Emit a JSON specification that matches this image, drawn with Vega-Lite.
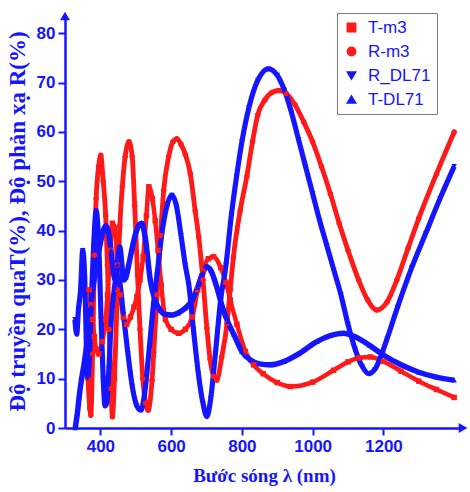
{
  "$schema": "https://vega.github.io/schema/vega-lite/v6.json",
  "width": 398,
  "height": 412,
  "autosize": {"type": "none"},
  "padding": {"left": 65, "top": 16, "right": 7, "bottom": 64},
  "background": "white",
  "config": {
    "view": {"stroke": null},
    "axis": {
      "grid": false,
      "domainColor": "#1515ff",
      "domainWidth": 2.5,
      "tickColor": "#1515ff",
      "tickWidth": 2,
      "labelColor": "#1515ff",
      "labelFont": "Liberation Sans",
      "labelFontWeight": "bold",
      "labelFontSize": 17,
      "titleColor": "#1515ff",
      "titleFont": "Liberation Serif",
      "titleFontWeight": "bold",
      "titleFontSize": 19
    },
    "legend": {
      "orient": "none",
      "legendX": 272,
      "legendY": -3,
      "padding": 6,
      "strokeColor": "#7a7a7a",
      "fillColor": "white",
      "labelFont": "Liberation Sans",
      "labelFontSize": 17,
      "labelColor": "#1515ff",
      "labelOffset": 8,
      "symbolSize": 70,
      "symbolOpacity": 1,
      "rowPadding": 6
    }
  },
  "data": {
    "values": [
      {"s":"T-m3","x":368,"y":28},{"s":"T-m3","x":373,"y":25},{"s":"T-m3","x":378,"y":22},{"s":"T-m3","x":383,"y":18.5},{"s":"T-m3","x":388,"y":16},{"s":"T-m3","x":396,"y":15},{"s":"T-m3","x":405,"y":17.5},{"s":"T-m3","x":415,"y":22},{"s":"T-m3","x":420,"y":27},{"s":"T-m3","x":428,"y":36},{"s":"T-m3","x":434,"y":41.5},{"s":"T-m3","x":441,"y":40.5},{"s":"T-m3","x":448,"y":33},{"s":"T-m3","x":456,"y":27},{"s":"T-m3","x":465,"y":22.5},{"s":"T-m3","x":474,"y":21},{"s":"T-m3","x":485,"y":22.5},{"s":"T-m3","x":495,"y":24.5},{"s":"T-m3","x":503,"y":26.6},{"s":"T-m3","x":512,"y":30},{"s":"T-m3","x":521,"y":34.7},{"s":"T-m3","x":530,"y":43},{"s":"T-m3","x":537,"y":48.9},{"s":"T-m3","x":547,"y":46.5},{"s":"T-m3","x":555,"y":42},{"s":"T-m3","x":563,"y":36},{"s":"T-m3","x":572,"y":29},{"s":"T-m3","x":584,"y":22},{"s":"T-m3","x":600,"y":20},{"s":"T-m3","x":621,"y":19.2},{"s":"T-m3","x":640,"y":20},{"s":"T-m3","x":660,"y":22.5},{"s":"T-m3","x":675,"y":28},{"s":"T-m3","x":690,"y":32},{"s":"T-m3","x":705,"y":34.3},{"s":"T-m3","x":720,"y":34.7},{"s":"T-m3","x":740,"y":32.5},{"s":"T-m3","x":755,"y":29.5},{"s":"T-m3","x":767,"y":26},{"s":"T-m3","x":786,"y":21},{"s":"T-m3","x":810,"y":15.5},{"s":"T-m3","x":833,"y":12.8},{"s":"T-m3","x":860,"y":11},{"s":"T-m3","x":900,"y":9.2},{"s":"T-m3","x":937,"y":8.4},{"s":"T-m3","x":1000,"y":9.3},{"s":"T-m3","x":1059,"y":11.7},{"s":"T-m3","x":1100,"y":13.4},{"s":"T-m3","x":1130,"y":14.2},{"s":"T-m3","x":1163,"y":14.4},{"s":"T-m3","x":1200,"y":13.5},{"s":"T-m3","x":1250,"y":11.5},{"s":"T-m3","x":1300,"y":9.5},{"s":"T-m3","x":1350,"y":7.8},{"s":"T-m3","x":1400,"y":6.2},
      {"s":"R-m3","x":365,"y":10},{"s":"R-m3","x":370,"y":4},{"s":"R-m3","x":373,"y":2.6},{"s":"R-m3","x":378,"y":15},{"s":"R-m3","x":383,"y":35},{"s":"R-m3","x":388,"y":46.5},{"s":"R-m3","x":395,"y":53},{"s":"R-m3","x":401,"y":55.3},{"s":"R-m3","x":408,"y":50},{"s":"R-m3","x":415,"y":43},{"s":"R-m3","x":420,"y":33},{"s":"R-m3","x":425,"y":20},{"s":"R-m3","x":430,"y":8},{"s":"R-m3","x":434,"y":2.3},{"s":"R-m3","x":440,"y":10},{"s":"R-m3","x":448,"y":28},{"s":"R-m3","x":455,"y":41},{"s":"R-m3","x":462,"y":48.9},{"s":"R-m3","x":470,"y":55},{"s":"R-m3","x":481,"y":58},{"s":"R-m3","x":490,"y":55},{"s":"R-m3","x":497,"y":45},{"s":"R-m3","x":505,"y":31},{"s":"R-m3","x":512,"y":20},{"s":"R-m3","x":520,"y":10},{"s":"R-m3","x":528,"y":5},{"s":"R-m3","x":535,"y":3.6},{"s":"R-m3","x":546,"y":9.7},{"s":"R-m3","x":551,"y":15.4},{"s":"R-m3","x":560,"y":27},{"s":"R-m3","x":570,"y":39},{"s":"R-m3","x":579,"y":48.2},{"s":"R-m3","x":593,"y":55},{"s":"R-m3","x":605,"y":58},{"s":"R-m3","x":616,"y":58.6},{"s":"R-m3","x":628,"y":57.5},{"s":"R-m3","x":640,"y":55.5},{"s":"R-m3","x":654,"y":51.6},{"s":"R-m3","x":668,"y":44},{"s":"R-m3","x":678,"y":38.7},{"s":"R-m3","x":690,"y":30},{"s":"R-m3","x":701,"y":20.2},{"s":"R-m3","x":710,"y":14},{"s":"R-m3","x":720,"y":10.5},{"s":"R-m3","x":729,"y":9.7},{"s":"R-m3","x":743,"y":14.4},{"s":"R-m3","x":758,"y":21.2},{"s":"R-m3","x":767,"y":28},{"s":"R-m3","x":776,"y":34.6},{"s":"R-m3","x":795,"y":44},{"s":"R-m3","x":814,"y":51},{"s":"R-m3","x":830,"y":58},{"s":"R-m3","x":845,"y":63.5},{"s":"R-m3","x":865,"y":66.5},{"s":"R-m3","x":885,"y":68},{"s":"R-m3","x":905,"y":68.4},{"s":"R-m3","x":925,"y":67.8},{"s":"R-m3","x":950,"y":65.5},{"s":"R-m3","x":975,"y":62},{"s":"R-m3","x":1000,"y":58},{"s":"R-m3","x":1025,"y":53},{"s":"R-m3","x":1050,"y":47.5},{"s":"R-m3","x":1075,"y":41.5},{"s":"R-m3","x":1100,"y":36},{"s":"R-m3","x":1130,"y":30},{"s":"R-m3","x":1155,"y":26},{"s":"R-m3","x":1181,"y":23.9},{"s":"R-m3","x":1210,"y":25.5},{"s":"R-m3","x":1238,"y":30},{"s":"R-m3","x":1270,"y":36.5},{"s":"R-m3","x":1300,"y":42.5},{"s":"R-m3","x":1350,"y":51.5},{"s":"R-m3","x":1400,"y":60},
      {"s":"R_DL71","x":328,"y":22},{"s":"R_DL71","x":333,"y":19},{"s":"R_DL71","x":338,"y":24},{"s":"R_DL71","x":344,"y":28},{"s":"R_DL71","x":350,"y":36},{"s":"R_DL71","x":356,"y":30},{"s":"R_DL71","x":360,"y":18},{"s":"R_DL71","x":364,"y":10},{"s":"R_DL71","x":369,"y":14},{"s":"R_DL71","x":375,"y":27},{"s":"R_DL71","x":381,"y":37},{"s":"R_DL71","x":388,"y":44},{"s":"R_DL71","x":395,"y":38},{"s":"R_DL71","x":402,"y":22},{"s":"R_DL71","x":408,"y":10},{"s":"R_DL71","x":413,"y":4.5},{"s":"R_DL71","x":418,"y":5},{"s":"R_DL71","x":424,"y":12},{"s":"R_DL71","x":431,"y":22},{"s":"R_DL71","x":439,"y":28},{"s":"R_DL71","x":447,"y":31},{"s":"R_DL71","x":455,"y":29.5},{"s":"R_DL71","x":465,"y":23},{"s":"R_DL71","x":478,"y":15},{"s":"R_DL71","x":490,"y":8.5},{"s":"R_DL71","x":503,"y":4.5},{"s":"R_DL71","x":515,"y":3.6},{"s":"R_DL71","x":525,"y":7},{"s":"R_DL71","x":538,"y":16},{"s":"R_DL71","x":550,"y":25},{"s":"R_DL71","x":560,"y":31},{"s":"R_DL71","x":575,"y":40},{"s":"R_DL71","x":590,"y":45.5},{"s":"R_DL71","x":602,"y":47.2},{"s":"R_DL71","x":615,"y":45},{"s":"R_DL71","x":628,"y":39},{"s":"R_DL71","x":640,"y":33},{"s":"R_DL71","x":650,"y":29},{"s":"R_DL71","x":663,"y":20},{"s":"R_DL71","x":677,"y":11},{"s":"R_DL71","x":690,"y":5},{"s":"R_DL71","x":701,"y":2.3},{"s":"R_DL71","x":712,"y":6},{"s":"R_DL71","x":725,"y":15},{"s":"R_DL71","x":740,"y":26},{"s":"R_DL71","x":755,"y":33},{"s":"R_DL71","x":770,"y":43},{"s":"R_DL71","x":785,"y":51},{"s":"R_DL71","x":800,"y":58},{"s":"R_DL71","x":820,"y":65},{"s":"R_DL71","x":845,"y":70.5},{"s":"R_DL71","x":875,"y":72.8},{"s":"R_DL71","x":900,"y":71.5},{"s":"R_DL71","x":920,"y":68.5},{"s":"R_DL71","x":940,"y":64},{"s":"R_DL71","x":960,"y":58.5},{"s":"R_DL71","x":980,"y":53},{"s":"R_DL71","x":1000,"y":47.5},{"s":"R_DL71","x":1020,"y":42},{"s":"R_DL71","x":1040,"y":37},{"s":"R_DL71","x":1060,"y":32},{"s":"R_DL71","x":1080,"y":27},{"s":"R_DL71","x":1100,"y":21},{"s":"R_DL71","x":1120,"y":16},{"s":"R_DL71","x":1140,"y":12.5},{"s":"R_DL71","x":1158,"y":11},{"s":"R_DL71","x":1175,"y":11.8},{"s":"R_DL71","x":1190,"y":14},{"s":"R_DL71","x":1210,"y":18},{"s":"R_DL71","x":1240,"y":24.5},{"s":"R_DL71","x":1280,"y":32.5},{"s":"R_DL71","x":1320,"y":39.5},{"s":"R_DL71","x":1360,"y":46.5},{"s":"R_DL71","x":1400,"y":53},
      {"s":"T-DL71","x":329,"y":0},{"s":"T-DL71","x":335,"y":3},{"s":"T-DL71","x":340,"y":6.3},{"s":"T-DL71","x":347,"y":10},{"s":"T-DL71","x":354,"y":13},{"s":"T-DL71","x":363,"y":17.8},{"s":"T-DL71","x":373,"y":24.6},{"s":"T-DL71","x":382,"y":30},{"s":"T-DL71","x":391,"y":34},{"s":"T-DL71","x":400,"y":37.5},{"s":"T-DL71","x":408,"y":40},{"s":"T-DL71","x":415,"y":41},{"s":"T-DL71","x":422,"y":40},{"s":"T-DL71","x":430,"y":36},{"s":"T-DL71","x":437,"y":31.5},{"s":"T-DL71","x":442,"y":30},{"s":"T-DL71","x":448,"y":33},{"s":"T-DL71","x":455,"y":36.7},{"s":"T-DL71","x":460,"y":33.5},{"s":"T-DL71","x":466,"y":30},{"s":"T-DL71","x":472,"y":30.5},{"s":"T-DL71","x":480,"y":33},{"s":"T-DL71","x":490,"y":36.5},{"s":"T-DL71","x":500,"y":39.5},{"s":"T-DL71","x":510,"y":41.2},{"s":"T-DL71","x":517,"y":41.5},{"s":"T-DL71","x":527,"y":38.5},{"s":"T-DL71","x":541,"y":30},{"s":"T-DL71","x":555,"y":25.8},{"s":"T-DL71","x":570,"y":23.8},{"s":"T-DL71","x":585,"y":23},{"s":"T-DL71","x":602,"y":22.9},{"s":"T-DL71","x":620,"y":23.3},{"s":"T-DL71","x":640,"y":24.3},{"s":"T-DL71","x":660,"y":26},{"s":"T-DL71","x":675,"y":28.5},{"s":"T-DL71","x":690,"y":31.5},{"s":"T-DL71","x":700,"y":32.7},{"s":"T-DL71","x":712,"y":32},{"s":"T-DL71","x":725,"y":29.5},{"s":"T-DL71","x":745,"y":24.5},{"s":"T-DL71","x":760,"y":21.5},{"s":"T-DL71","x":777,"y":19},{"s":"T-DL71","x":800,"y":15.5},{"s":"T-DL71","x":824,"y":13.8},{"s":"T-DL71","x":850,"y":13},{"s":"T-DL71","x":880,"y":12.8},{"s":"T-DL71","x":920,"y":13.5},{"s":"T-DL71","x":960,"y":15},{"s":"T-DL71","x":1012,"y":17.5},{"s":"T-DL71","x":1050,"y":18.7},{"s":"T-DL71","x":1087,"y":19.2},{"s":"T-DL71","x":1120,"y":18.5},{"s":"T-DL71","x":1160,"y":16.8},{"s":"T-DL71","x":1200,"y":14.8},{"s":"T-DL71","x":1250,"y":12.8},{"s":"T-DL71","x":1300,"y":11.3},{"s":"T-DL71","x":1350,"y":10.3},{"s":"T-DL71","x":1400,"y":9.7}
    ]
  },
  "layer": [
    {
      "mark": {"type": "line", "interpolate": "monotone"},
      "encoding": {
        "x": {
          "field": "x", "type": "quantitative",
          "scale": {"domain": [300, 1425], "nice": false, "zero": false},
          "axis": {
            "title": "Bước sóng λ (nm)",
            "values": [400, 600, 800, 1000, 1200],
            "format": "d",
            "tickSize": 7,
            "labelPadding": 3,
            "titlePadding": 12
          }
        },
        "y": {
          "field": "y", "type": "quantitative",
          "scale": {"domain": [0, 83.5], "nice": false},
          "axis": {
            "title": "Độ truyền quaT(%), Độ phản xạ R(%)",
            "titleFontSize": 23,
            "values": [0, 5, 10, 15, 20, 25, 30, 35, 40, 45, 50, 55, 60, 65, 70, 75, 80],
            "labelExpr": "datum.value % 10 === 0 ? datum.label : ''",
            "labelOverlap": false,
            "tickSize": {"condition": {"test": "datum.value % 10 === 0", "value": 7}, "value": 4},
            "labelPadding": 3,
            "titleX": -41,
            "titleY": 205,
            "titleBaseline": "alphabetic",
            "titleAlign": "center",
            "titleAnchor": null,
            "titleAngle": -90
          }
        },
        "color": {
          "field": "s", "type": "nominal",
          "scale": {"domain": ["T-m3", "R-m3", "R_DL71", "T-DL71"], "range": ["#ff1a1a", "#ff1a1a", "#1515ff", "#1515ff"]}
        },
        "strokeWidth": {
          "field": "s", "type": "nominal",
          "scale": {"domain": ["T-DL71", "R_DL71", "R-m3", "T-m3"], "range": [5.5, 4.5, 3.5, 3.5]},
          "legend": null
        }
      }
    },
    {
      "mark": {"type": "point", "filled": true, "opacity": 1, "size": 30},
      "encoding": {
        "x": {"field": "x", "type": "quantitative"},
        "y": {"field": "y", "type": "quantitative"},
        "color": {"field": "s", "type": "nominal", "legend": {"title": null}},
        "shape": {
          "field": "s", "type": "nominal",
          "scale": {"domain": ["T-m3", "R-m3", "R_DL71", "T-DL71"], "range": ["square", "circle", "triangle-down", "triangle-up"]},
          "legend": {"title": null}
        }
      }
    },
    {
      "data": {"values": [{"a": 1}]},
      "mark": {"type": "point", "shape": "triangle-right", "filled": true, "size": 100, "opacity": 1, "color": "#1515ff"},
      "encoding": {"x": {"datum": 1425}, "y": {"datum": 0}}
    },
    {
      "data": {"values": [{"a": 1}]},
      "mark": {"type": "point", "shape": "triangle-up", "filled": true, "size": 100, "opacity": 1, "color": "#1515ff"},
      "encoding": {"x": {"datum": 300}, "y": {"datum": 83.5}}
    }
  ]
}
